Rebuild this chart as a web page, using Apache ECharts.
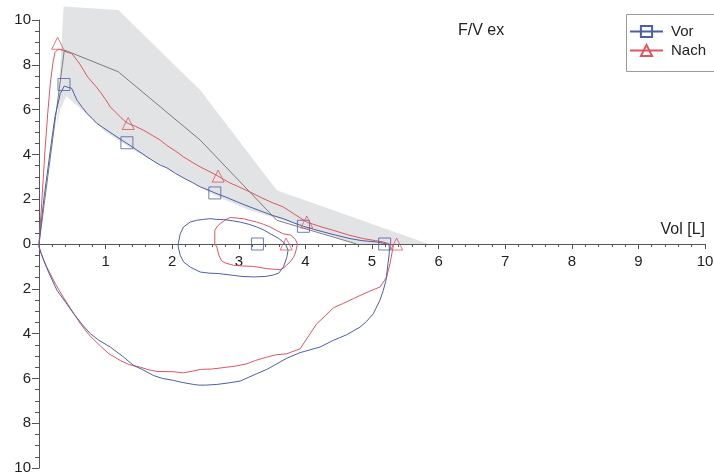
<!DOCTYPE html>
<html><head><meta charset="utf-8">
<script src="https://cdn.jsdelivr.net/npm/echarts@6/dist/echarts.min.js"></script>
<style>html,body{margin:0;padding:0;background:#fff}#c{width:714px;height:474px}</style>
</head><body><div id="c"></div>
<script>
// ---- data (Vol [L], Flow [L/s]; inspiration plotted negative) ----
const bandVol  = [0.37, 1.19, 2.42, 3.57, 5.85, 4.77, 3.62, 3.17, 2.65, 2.0, 1.5, 1.0, 0.6, 0.41, 0.32, 0.27];
const bandFlow = [10.6, 10.45, 6.87, 2.4, 0, 0, 1.1, 1.5, 2.15, 3.25, 4.05, 5.0, 6.1, 6.6, 6.0, 5.3];

const predVol  = [0, 0.38, 1.19, 2.42, 3.57, 4.77];
const predFlow = [0, 8.66, 7.69, 4.64, 1.06, 0];

const vorVol = [0,0.07,0.17,0.24,0.32,0.38,0.43,0.49,0.57,0.65,0.72,0.8,0.87,0.95,1.02,1.1,1.17,1.25,1.32,1.4,1.47,1.55,1.62,1.72,1.82,1.92,2.05,2.2,2.3,2.42,2.55,2.64,2.8,3.0,3.17,3.35,3.5,3.67,3.82,3.97,4.12,4.27,4.45,4.67,4.85,5.07,5.2,
  5.26,5.26,5.24,5.21,5.17,5.12,5.02,4.92,4.82,4.62,4.42,4.22,3.92,3.72,3.57,3.42,3.27,3.02,2.85,2.67,2.5,2.47,2.4,2.32,2.15,2.02,1.85,1.72,1.55,1.42,1.25,1.07,0.9,0.77,0.65,0.52,0.4,0.27,0.15,0.07,0,0];
const vorFlow = [0,1.95,4.18,5.68,6.72,7.05,7.0,6.95,6.42,6.1,5.83,5.6,5.38,5.22,5.08,4.92,4.78,4.62,4.49,4.34,4.19,4.04,3.89,3.7,3.52,3.4,3.15,2.9,2.75,2.55,2.4,2.28,2.1,1.85,1.65,1.45,1.28,1.13,0.95,0.79,0.66,0.54,0.4,0.24,0.15,0.09,0.02,
  -0.06,-0.4,-0.88,-1.62,-2.07,-2.5,-3.11,-3.45,-3.71,-4.05,-4.3,-4.6,-4.85,-5.1,-5.35,-5.6,-5.79,-6.12,-6.2,-6.27,-6.3,-6.38,-6.3,-6.27,-6.18,-6.09,-6.0,-5.87,-5.6,-5.42,-5.0,-4.6,-4.3,-4.0,-3.6,-3.11,-2.6,-2.07,-1.3,-0.73,-0.13,0];

const nachVol = [0,0.04,0.09,0.13,0.17,0.21,0.24,0.29,0.37,0.43,0.49,0.57,0.62,0.67,0.72,0.77,0.85,0.92,1.0,1.07,1.15,1.22,1.28,1.34,1.45,1.57,1.7,1.82,1.92,2.05,2.17,2.3,2.42,2.55,2.69,2.85,3.0,3.17,3.35,3.5,3.67,3.85,4.02,4.2,4.42,4.65,4.87,5.05,5.17,5.24,
  5.32,5.3,5.27,5.22,5.12,4.97,4.82,4.72,4.57,4.42,4.3,4.17,4.05,3.92,3.72,3.55,3.42,3.25,3.12,2.95,2.82,2.6,2.42,2.3,2.17,2.0,1.77,1.65,1.52,1.35,1.22,1.05,0.92,0.75,0.62,0.5,0.37,0.25,0.12,0.04,0,0];
const nachFlow = [0,1.8,4.18,5.8,7.17,8.1,8.55,8.7,8.63,8.55,8.51,8.21,8.0,7.76,7.5,7.32,7.05,6.79,6.45,6.12,5.88,5.68,5.5,5.38,5.25,5.08,4.85,4.64,4.4,4.15,3.89,3.65,3.44,3.25,3.03,2.75,2.55,2.32,2.05,1.85,1.65,1.3,0.98,0.8,0.61,0.4,0.24,0.15,0.09,0.02,
  -0.06,-0.4,-0.88,-1.48,-1.92,-2.1,-2.3,-2.44,-2.65,-2.85,-3.2,-3.56,-4.1,-4.68,-4.9,-4.95,-5.05,-5.2,-5.35,-5.45,-5.5,-5.58,-5.6,-5.68,-5.75,-5.7,-5.69,-5.62,-5.5,-5.38,-5.2,-4.9,-4.55,-4.05,-3.55,-3.0,-2.4,-1.8,-1.05,-0.5,-0.13,0];

const vorTidalVol  = [2.09,2.12,2.17,2.27,2.37,2.47,2.57,2.67,2.77,2.9,3.02,3.15,3.27,3.38,3.47,3.6,3.7,3.74,3.72,3.67,3.6,3.52,3.4,3.22,3.05,2.92,2.7,2.55,2.42,2.27,2.17,2.12,2.09,2.09];
const vorTidalFlow = [0,0.45,0.76,0.98,1.06,1.1,1.13,1.1,1.09,1.04,0.98,0.88,0.76,0.62,0.46,0.25,0.0,-0.28,-0.6,-1.03,-1.3,-1.38,-1.45,-1.47,-1.45,-1.4,-1.32,-1.3,-1.25,-1.03,-0.8,-0.5,-0.13,0];

const nachTidalVol  = [2.64,2.64,2.68,2.72,2.8,2.87,2.97,3.07,3.17,3.27,3.37,3.47,3.57,3.67,3.78,3.85,3.88,3.85,3.82,3.77,3.68,3.62,3.42,3.22,3.05,2.92,2.8,2.74,2.7,2.67,2.64];
const nachTidalFlow = [0,0.61,0.8,0.91,1.08,1.18,1.16,1.13,1.05,0.98,0.88,0.76,0.6,0.45,0.4,0.2,0.0,-0.4,-0.6,-0.8,-1.05,-1.15,-1.1,-1.0,-0.98,-0.95,-0.85,-0.75,-0.5,-0.13,0];

const vorMarkVol  = [0.375, 1.32, 2.64, 3.97, 5.19, 3.28];
const vorMarkFlow = [7.12, 4.52, 2.28, 0.79, 0, 0];
const nachMarkVol  = [0.28, 1.34, 2.69, 4.02, 5.37, 3.71];
const nachMarkFlow = [8.96, 5.38, 3.03, 0.98, 0, 0];

const seriesNames = ['Vor', 'Nach'];
const titleText = 'F/V ex';
const xName = 'Vol [L]';

// ---- chart ----
const zip = (a, b) => a.map((v, i) => [v, b[i]]);
const BLUE = '#4c5ea8', RED = '#dc5660', GREY = '#7c7c7c';
const FONT = '"Liberation Sans", Arial, sans-serif';
const GRID_TOP = 20, GRID_BOTTOM = 6, H = 474;
const Y_MIN = -10, Y_MAX = 10;
// place the volume axis at flow = 0 (inside the grid)
const plotH = H - GRID_TOP - GRID_BOTTOM;
const xAxisOffset = -plotH * (0 - Y_MIN) / (Y_MAX - Y_MIN);

const chart = echarts.init(document.getElementById('c'));
chart.setOption({
  animation: false,
  textStyle: { fontFamily: FONT },
  title: { text: titleText, left: 458, top: 23, padding: 0,
    textStyle: { fontSize: 16, fontWeight: 'normal', color: '#222', fontFamily: FONT } },
  graphic: [{
    type: 'rect', left: 624, top: 12, silent: true, z: 10,
    shape: { width: 110, height: 57 },
    style: { fill: 'none', stroke: '#9a9a9a', lineWidth: 1 }
  }],
  legend: {
    data: seriesNames, orient: 'vertical', left: 625, top: 13,
    padding: [11, 5, 10, 4], itemGap: 4, itemWidth: 33, itemHeight: 14,
    borderWidth: 0, selectedMode: false,
    textStyle: { fontSize: 15, color: '#222', fontFamily: FONT, padding: [0, 0, 0, 3] }
  },
  grid: { left: 39, right: 9, top: GRID_TOP, bottom: GRID_BOTTOM, containLabel: false, outerBoundsMode: 'none' },
  xAxis: {
    type: 'value', min: 0, max: 10, interval: 1, position: 'bottom', offset: xAxisOffset,
    axisLine: { onZero: false, lineStyle: { color: '#555', width: 1 } },
    axisTick: { show: true, inside: false, length: 5, lineStyle: { color: '#555' } },
    minorTick: { show: true, splitNumber: 5, length: 3, lineStyle: { color: '#555' } },
    splitLine: { show: false },
    axisLabel: { show: true, inside: false, showMinLabel: false, fontSize: 15, margin: 10, color: '#222', fontFamily: FONT },
    name: xName, nameLocation: 'end', nameGap: 0,
    nameTextStyle: { align: 'right', verticalAlign: 'bottom', padding: [0, 0, 6, 0], fontSize: 16, color: '#222', fontFamily: FONT }
  },
  yAxis: {
    type: 'value', min: Y_MIN, max: Y_MAX, interval: 2,
    axisLine: { show: true, onZero: false, lineStyle: { color: '#555', width: 1 } },
    axisTick: { show: true, length: 7, lineStyle: { color: '#555' } },
    minorTick: { show: true, splitNumber: 4, length: 4, lineStyle: { color: '#555' } },
    splitLine: { show: false },
    axisLabel: { formatter: v => String(Math.abs(v)), fontSize: 15, margin: 8, color: '#222', fontFamily: FONT }
  },
  series: [
    {
      type: 'custom', name: 'band', clip: false, silent: true, z: 1,
      data: zip(bandVol, bandFlow),
      encode: { x: 0, y: 1 },
      renderItem: (params, api) => {
        if (params.dataIndex !== 0) return null;
        const pts = bandVol.map((v, i) => api.coord([v, bandFlow[i]]));
        return { type: 'polygon', shape: { points: pts }, style: { fill: '#e1e3e5' } };
      }
    },
    { type: 'line', name: 'pred', data: zip(predVol, predFlow), symbol: 'none', z: 2,
      lineStyle: { color: GREY, width: 1 }, silent: true },
    { type: 'line', name: 'Vor', data: zip(vorVol, vorFlow), showSymbol: false, symbol: 'rect', symbolSize: 11, z: 4,
      lineStyle: { color: BLUE, width: 1 }, itemStyle: { color: 'rgba(0,0,0,0)', borderColor: BLUE, borderWidth: 1 } },
    { type: 'line', name: 'Nach', data: zip(nachVol, nachFlow), showSymbol: false, symbol: 'triangle', symbolSize: 11, z: 3,
      lineStyle: { color: RED, width: 1 }, itemStyle: { color: 'rgba(0,0,0,0)', borderColor: RED, borderWidth: 1 } },
    { type: 'line', name: 'vorTidal', data: zip(vorTidalVol, vorTidalFlow), symbol: 'none', z: 4,
      lineStyle: { color: BLUE, width: 1 } },
    { type: 'line', name: 'nachTidal', data: zip(nachTidalVol, nachTidalFlow), symbol: 'none', z: 3,
      lineStyle: { color: RED, width: 1 } },
    { type: 'scatter', name: 'vorMarks', data: zip(vorMarkVol, vorMarkFlow), symbol: 'rect', symbolSize: 12, z: 5,
      itemStyle: { color: 'rgba(0,0,0,0)', borderColor: BLUE, borderWidth: 1 }, clip: false },
    { type: 'scatter', name: 'nachMarks', data: zip(nachMarkVol, nachMarkFlow), symbol: 'triangle', symbolSize: 12, z: 5,
      itemStyle: { color: 'rgba(0,0,0,0)', borderColor: RED, borderWidth: 1 }, clip: false }
  ]
});
</script></body></html>
